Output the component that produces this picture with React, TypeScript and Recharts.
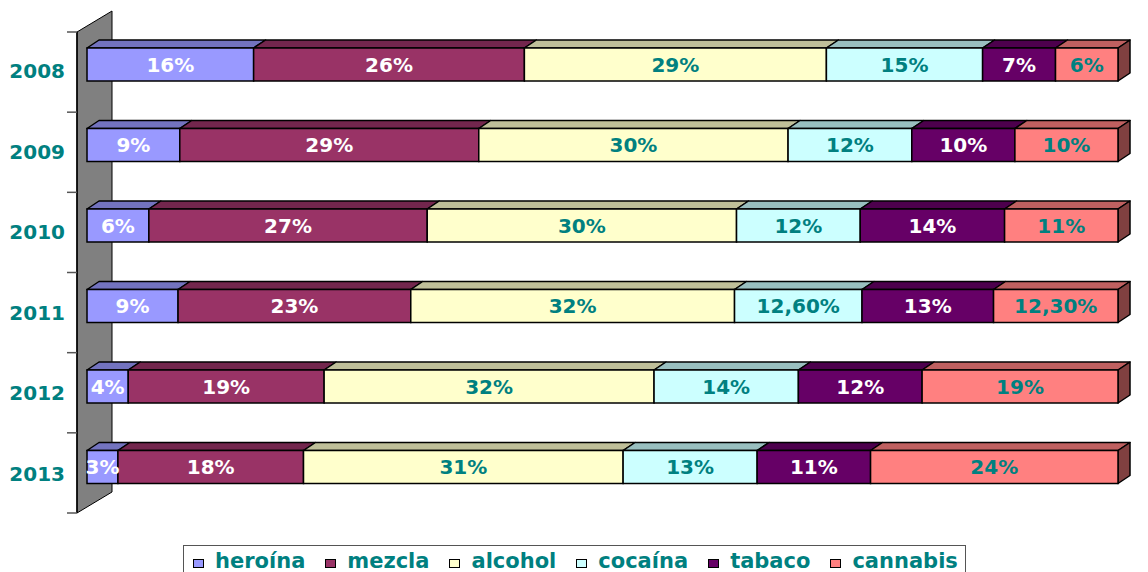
import React from "react";
import { Bar, BarChart, LabelList, Legend, ReferenceArea, XAxis, YAxis } from "recharts";

const years: string[] = ["2008", "2009", "2010", "2011", "2012", "2013"];
const heroina: number[] = [16, 9, 6, 9, 4, 3];
const mezcla: number[] = [26, 29, 27, 23, 19, 18];
const alcohol: number[] = [29, 30, 30, 32, 32, 31];
const cocaina: number[] = [15, 12, 12, 12.6, 14, 13];
const tabaco: number[] = [7, 10, 14, 13, 12, 11];
const cannabis: number[] = [6, 10, 11, 12.3, 19, 24];

const SERIES = [
    { key: "heroina", name: "heroína", values: heroina, color: "#9999FF", top: "#7373BF", label: "#FFFFFF" },
    { key: "mezcla", name: "mezcla", values: mezcla, color: "#993366", top: "#73264D", label: "#FFFFFF" },
    { key: "alcohol", name: "alcohol", values: alcohol, color: "#FFFFCC", top: "#BFBF99", label: "#008080" },
    { key: "cocaina", name: "cocaína", values: cocaina, color: "#CCFFFF", top: "#99BFBF", label: "#008080" },
    { key: "tabaco", name: "tabaco", values: tabaco, color: "#660066", top: "#4D004D", label: "#FFFFFF" },
    { key: "cannabis", name: "cannabis", values: cannabis, color: "#FF8080", top: "#BF6060", label: "#008080" },
];

const data = years.map((year, i) => {
    const row: Record<string, string | number> = { year };
    SERIES.forEach((s) => { row[s.key] = s.values[i]; });
    return row;
});

const TEAL = "#008080";
const FONT = "'DejaVu Sans', Arial, sans-serif";
const DX = 12; // depth of the 3d bars
const DY = 8;

const fmt = (v: any) => {
    const n = Number(v);
    return Number.isInteger(n) ? `${n}%` : `${n.toFixed(2).replace(".", ",")}%`;
};

// 3d bar segment: front face, top face, right face on the last one
const makeShape = (top: string, last: boolean) => (props: any) => {
    const { x, y, width, height, fill } = props;
    if (width == null || height == null) return <g />;
    return (
        <g>
            <polygon
                points={`${x},${y} ${x + DX},${y - DY} ${x + width + DX},${y - DY} ${x + width},${y}`}
                fill={top} stroke="#000" strokeWidth={1.5} strokeLinejoin="round"
            />
            {last && (
                <polygon
                    points={`${x + width},${y} ${x + width + DX},${y - DY} ${x + width + DX},${y + height - DY} ${x + width},${y + height}`}
                    fill="#804040" stroke="#000" strokeWidth={1.5} strokeLinejoin="round"
                />
            )}
            <rect x={x} y={y} width={width} height={height} fill={fill} stroke="#000" strokeWidth={1.5} />
        </g>
    );
};

// grey side wall drawn from the plot area
const Wall = (props: any) => {
    const { x, y, height } = props;
    if (x == null) return <g />;
    const fx = x - 10, bx = x + 25;
    const ft = y + 8, fb = y + height + 6;
    const step = (fb - ft) / years.length;
    return (
        <g>
            <polygon
                points={`${fx},${ft} ${bx},${ft - 21} ${bx},${fb - 21} ${fx},${fb}`}
                fill="#808080" stroke="#000" strokeWidth={1}
            />
            <line x1={fx} y1={ft} x2={fx} y2={fb} stroke="#000" strokeWidth={1.5} />
            {Array.from({ length: years.length + 1 }, (_, i) => (
                <line key={i} x1={fx - 10} y1={ft + i * step} x2={fx} y2={ft + i * step} stroke="#555" strokeWidth={1.5} />
            ))}
        </g>
    );
};

const YearTick = (props: any) => {
    const { x, y, payload } = props;
    return (
        <text x={x} y={y + 7} textAnchor="end" dominantBaseline="central"
            fill={TEAL} fontFamily={FONT} fontWeight="bold" fontSize={20}>
            {payload.value}
        </text>
    );
};

const LegendBox = () => (
    <div style={{
        display: "flex", alignItems: "flex-start", gap: 20, boxSizing: "border-box",
        width: 783, height: 40, border: "1px solid #555", paddingLeft: 9, paddingTop: 3,
    }}>
        {SERIES.map((s) => (
            <div key={s.key} style={{ display: "flex", alignItems: "flex-start", gap: 11, lineHeight: "24px" }}>
                <span style={{ display: "inline-block", width: 9, height: 7, background: s.color, border: "1.5px solid #000", marginTop: 10 }} />
                <span style={{ color: TEAL, fontFamily: FONT, fontWeight: "bold", fontSize: 21, lineHeight: "24px" }}>{s.name}</span>
            </div>
        ))}
    </div>
);

export default function App() {
    return (
        <div style={{ position: "absolute", left: 0, top: 0, width: 1148, height: 572, background: "#fff", overflow: "hidden" }}>
            <BarChart
                width={1148}
                height={572}
                data={data}
                layout="vertical"
                stackOffset="expand"
                barSize={33}
                margin={{ top: 24, right: 30, bottom: 65, left: 8 }}
            >
                <XAxis type="number" domain={[0, 1]} hide />
                <YAxis type="category" dataKey="year" width={79} axisLine={false}
                    tickLine={false} tickSize={0} tickMargin={22} tick={<YearTick />} />
                <ReferenceArea x1={0} x2={1} ifOverflow="visible" shape={<Wall />} fill="none" />
                {SERIES.map((s, i) => (
                    <Bar key={s.key} dataKey={s.key} name={s.name} stackId="a" fill={s.color}
                        isAnimationActive={false} shape={makeShape(s.top, i === SERIES.length - 1)}>
                        <LabelList dataKey={s.key} position="center" formatter={fmt}
                            fill={s.label} fontFamily={FONT} fontWeight="bold" fontSize={20} />
                    </Bar>
                ))}
                <Legend layout="horizontal" verticalAlign="middle" align="center"
                    wrapperStyle={{ left: 183, top: 545, width: 783 }} content={<LegendBox />} />
            </BarChart>
        </div>
    );
}
